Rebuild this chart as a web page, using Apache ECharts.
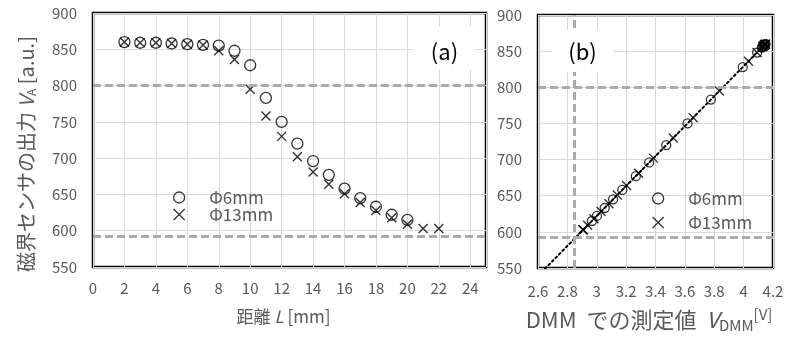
<!DOCTYPE html>
<html>
<head>
<meta charset="utf-8">
<script src="https://cdn.jsdelivr.net/npm/echarts@6/dist/echarts.min.js"></script>
<style>
  html, body { margin: 0; padding: 0; background: #ffffff; }
  #chart { width: 792px; height: 338px; }
</style>
</head>
<body>
<div id="chart"></div>
<script>
// (a) Sensor output V_A against distance L, for the two magnet diameters
const distance6 = [2, 3, 4, 5, 6, 7, 8, 9, 10, 11, 12, 13, 14, 15, 16, 17, 18, 19, 20];
const output6 = [860, 859, 859, 858, 857, 856, 855, 848, 828, 783, 750, 720, 696, 677, 658, 645, 633, 622, 615];

const distance13 = [2, 3, 4, 5, 6, 7, 8, 9, 10, 11, 12, 13, 14, 15, 16, 17, 18, 19, 20, 21, 22];
const output13 = [860, 859, 859, 858, 857, 856, 848, 836, 795, 758, 730, 702, 681, 664, 651, 639, 628, 618, 609, 603, 603];

// (b) The same outputs against the voltage read on the DMM
const dmm6 = [4.149, 4.145, 4.143, 4.139, 4.135, 4.129, 4.124, 4.092, 3.994, 3.777, 3.618, 3.473, 3.357, 3.266, 3.174, 3.111, 3.054, 3.001, 2.967];
const dmm13 = [4.150, 4.144, 4.145, 4.139, 4.133, 4.130, 4.091, 4.033, 3.835, 3.657, 3.521, 3.386, 3.285, 3.203, 3.140, 3.083, 3.029, 2.981, 2.938, 2.909, 2.905];

// Dashed guide levels
const outputGuides = [800, 592];
const dmmGuide = 2.845;

// Axis ranges
const distanceAxis = { min: 0, max: 25, interval: 2 };
const dmmAxis = { min: 2.6, max: 4.2, interval: 0.2 };
const outputAxis = { min: 550, max: 900, interval: 50 };

const name6 = 'Φ6mm';
const name13 = 'Φ13mm';

const zip = (xs, ys) => xs.map((x, i) => [x, ys[i]]);

// Least-squares line through every (DMM, output) pair
function linearFit(xs, ys) {
  const n = xs.length;
  const mx = xs.reduce((a, b) => a + b, 0) / n;
  const my = ys.reduce((a, b) => a + b, 0) / n;
  let sxy = 0, sxx = 0;
  for (let i = 0; i < n; i++) {
    sxy += (xs[i] - mx) * (ys[i] - my);
    sxx += (xs[i] - mx) * (xs[i] - mx);
  }
  const slope = sxy / sxx;
  return { slope, intercept: my - slope * mx };
}
const allDmm = dmm6.concat(dmm13);
const allOut = output6.concat(output13);
const fit = linearFit(allDmm, allOut);
const trendX = [dmmAxis.min, Math.max.apply(null, allDmm)];
const trendData = trendX.map(x => [x, fit.slope * x + fit.intercept]);

const FONT = '"Noto Sans CJK JP", "Noto Sans", sans-serif';
const GREY = '#595959';
const GRID_LINE = '#d9d9d9';
const GUIDE = { color: '#ababab', width: 3, type: [8, 4] };

const crossSymbol = 'path://M0,0L10,10M10,0L0,10';
const circleStyle = { color: 'rgba(255,255,255,0)', borderColor: '#000', borderWidth: 1.3 };
const crossStyle = { color: 'rgba(255,255,255,0)', borderColor: '#000', borderWidth: 1.4 };

function valueAxis(range, gridIndex, extra) {
  return Object.assign({
    type: 'value',
    gridIndex: gridIndex,
    min: range.min,
    max: range.max,
    interval: range.interval,
    axisLine: { show: false },
    axisTick: { show: false },
    splitLine: { show: true, lineStyle: { color: GRID_LINE, width: 1 } },
    axisLabel: { color: GREY, fontSize: 15, fontFamily: FONT }
  }, extra);
}

function guideLines(list) {
  return {
    silent: true,
    symbol: 'none',
    label: { show: false },
    lineStyle: GUIDE,
    emphasis: { disabled: true },
    data: list
  };
}

function legendAt(left, top, gap) {
  return {
    data: [name6, name13],
    orient: 'vertical',
    left: left, top: top,
    itemWidth: 50, itemHeight: 11, itemGap: gap,
    selectedMode: false,
    itemStyle: { borderWidth: 1.3 },
    textStyle: { color: GREY, fontSize: 17, lineHeight: 17, fontFamily: FONT }
  };
}

const chart = echarts.init(document.getElementById('chart'), null, { renderer: 'canvas' });

chart.setOption({
  animation: false,
  backgroundColor: '#ffffff',
  textStyle: { fontFamily: FONT },
  grid: [
    { left: 93, top: 13, width: 393, height: 254, show: true, borderColor: '#000', borderWidth: 2.5, backgroundColor: 'rgba(0,0,0,0)' },
    { left: 538, top: 15, width: 235, height: 253, show: true, borderColor: '#000', borderWidth: 2.5, backgroundColor: 'rgba(0,0,0,0)' }
  ],
  xAxis: [
    valueAxis(distanceAxis, 0, {
      axisLabel: { color: GREY, fontSize: 15, fontFamily: FONT, margin: 14, showMaxLabel: false },
      name: '距離 {i|L} [mm]',
      nameLocation: 'middle',
      nameGap: 41,
      nameTextStyle: {
        color: GREY, fontSize: 17, fontFamily: FONT, padding: [0, 12, 0, 0],
        rich: { i: { fontStyle: 'italic', fontSize: 17, color: GREY, fontFamily: FONT } }
      }
    }),
    valueAxis(dmmAxis, 1, {
      axisLabel: { color: GREY, fontSize: 15, fontFamily: FONT, margin: 16 },
      name: 'DMM  での測定値  {v|V}{sub|DMM}{sup|[V]}',
      nameLocation: 'middle',
      nameGap: 39,
      nameTextStyle: {
        color: GREY, fontSize: 22, fontFamily: FONT, lineHeight: 26, padding: [0, 13, 0, 0],
        rich: {
          v: { fontStyle: 'italic', fontSize: 22, lineHeight: 26, color: GREY, fontFamily: FONT },
          sub: { fontSize: 15, lineHeight: 12, verticalAlign: 'bottom', color: GREY, fontFamily: FONT },
          sup: { fontSize: 15, lineHeight: 14, verticalAlign: 'top', color: GREY, fontFamily: FONT }
        }
      }
    })
  ],
  yAxis: [
    valueAxis(outputAxis, 0, {
      axisLabel: { color: GREY, fontSize: 15, fontFamily: FONT, margin: 16 },
      name: '磁界センサの出力 {v|V}{sub|A} [a.u.]',
      nameLocation: 'middle',
      nameRotate: 90,
      nameGap: 56,
      nameTextStyle: {
        color: GREY, fontSize: 20, fontFamily: FONT, lineHeight: 22, padding: [0, 28, 0, 0],
        rich: {
          v: { fontStyle: 'italic', fontSize: 20, lineHeight: 22, color: GREY, fontFamily: FONT },
          sub: { fontSize: 12, lineHeight: 12, verticalAlign: 'bottom', color: GREY, fontFamily: FONT }
        }
      }
    }),
    valueAxis(outputAxis, 1, {
      axisLabel: { color: GREY, fontSize: 15, fontFamily: FONT, margin: 16 }
    })
  ],
  legend: [
    legendAt(168, 184, 0),
    legendAt(647, 185, 7)
  ],
  series: [
    {
      name: name6, type: 'scatter', xAxisIndex: 0, yAxisIndex: 0,
      data: zip(distance6, output6),
      symbol: 'circle', symbolSize: 11,
      itemStyle: circleStyle,
      emphasis: { disabled: true },
      markLine: guideLines(outputGuides.map(v => ({ yAxis: v }))),
      z: 3
    },
    {
      name: name13, type: 'scatter', xAxisIndex: 0, yAxisIndex: 0,
      data: zip(distance13, output13),
      symbol: crossSymbol, symbolSize: 9,
      itemStyle: crossStyle,
      emphasis: { disabled: true },
      z: 3
    },
    {
      name: 'trend', type: 'line', xAxisIndex: 1, yAxisIndex: 1,
      data: trendData,
      symbol: 'none',
      clip: true,
      lineStyle: { color: '#000', width: 2, type: [2, 3], cap: 'round' },
      emphasis: { disabled: true },
      silent: true,
      z: 2
    },
    {
      name: name6, type: 'scatter', xAxisIndex: 1, yAxisIndex: 1,
      data: zip(dmm6, output6),
      symbol: 'circle', symbolSize: 9,
      itemStyle: circleStyle,
      emphasis: { disabled: true },
      markLine: guideLines(outputGuides.map(v => ({ yAxis: v })).concat([{ xAxis: dmmGuide }])),
      z: 3
    },
    {
      name: name13, type: 'scatter', xAxisIndex: 1, yAxisIndex: 1,
      data: zip(dmm13, output13),
      symbol: crossSymbol, symbolSize: 9,
      itemStyle: crossStyle,
      emphasis: { disabled: true },
      z: 3
    }
  ],
  graphic: [
    { type: 'rect', z: 100, shape: { x: 413, y: 27, width: 62, height: 43 }, style: { fill: '#ffffff' } },
    { type: 'text', z: 101, style: { text: '(a)', x: 444.5, y: 52, align: 'center', verticalAlign: 'middle', fontSize: 22, fontFamily: FONT, fill: '#000' } },
    { type: 'rect', z: 100, shape: { x: 552, y: 30, width: 61, height: 42 }, style: { fill: '#ffffff' } },
    { type: 'text', z: 101, style: { text: '(b)', x: 582.5, y: 52, align: 'center', verticalAlign: 'middle', fontSize: 22, fontFamily: FONT, fill: '#000' } }
  ]
});
</script>
</body>
</html>
